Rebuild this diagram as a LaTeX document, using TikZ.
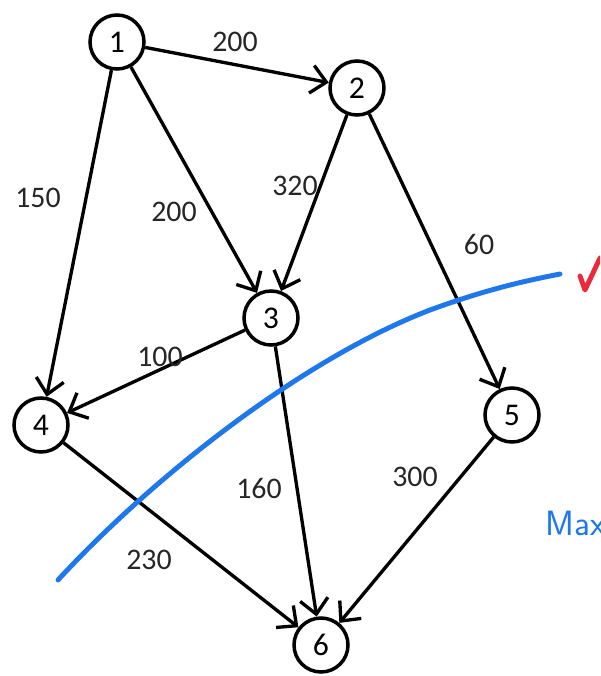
\documentclass[tikz,border=0pt]{standalone}
\usepackage{fontspec}
\setmainfont{Carlito}
\usetikzlibrary{arrows.meta}
\tikzset{
  vertex/.style={draw,circle,line width=2pt,minimum size=10.8mm,inner sep=0pt,font=\fontsize{18}{18}\selectfont},
  edge/.style={-{Straight Barb[length=3mm,width=5.6mm,line width=1.9pt]},line width=1.9pt},
  weight/.style={font=\fontsize{17}{17}\selectfont,text=black!85},
  cutline/.style={line width=2.8pt,color={rgb,255:red,30;green,120;blue,235},line cap=round},
  tickmark/.style={line width=2.8pt,color={rgb,255:red,235;green,40;blue,60},line cap=round,line join=round}
}

\begin{document}
\begin{tikzpicture}[x=0.02cm,y=-0.02cm]
\useasboundingbox (0,0) rectangle (600,676);
\clip (0,0) rectangle (600,676);

\node[vertex] (v1) at (117,42) {1};
\node[vertex] (v2) at (357,88) {2};
\node[vertex] (v3) at (271,318) {3};
\node[vertex] (v4) at (41,425) {4};
\node[vertex] (v5) at (512,415) {5};
\node[vertex] (v6) at (321,645) {6};

\draw[edge] (v1) -- (v2);
\draw[edge] (v1) -- (v3);
\draw[edge] (v1) -- (v4);
\draw[edge] (v2) -- (v3);
\draw[edge] (v2) -- (v5);
\draw[edge] (v3) -- (v4);
\draw[edge] (v3) -- (v6);
\draw[edge] (v4) -- (v6);
\draw[edge] (v5) -- (v6);

\node[weight] (w12) at (235,42) {200};
\node[weight] (w13) at (174,212) {200};
\node[weight] (w14) at (38,198) {150};
\node[weight] (w23) at (295,186) {320};
\node[weight] (w25) at (479,245) {60};
\node[weight] (w34) at (160,357) {100};
\node[weight] (w36) at (259,489) {160};
\node[weight] (w46) at (149,560) {230};
\node[weight] (w56) at (415,477) {300};

% the cut
\draw[cutline] (58,580) .. controls (150,480) and (300,360) .. (430,310)
  .. controls (490,288) and (530,280) .. (560,274);
\draw[tickmark] (580,276) -- (585,290) -- (600,258);
\node[anchor=west,inner sep=0pt,text={rgb,255:red,30;green,120;blue,235},font=\sffamily\fontsize{20}{20}\selectfont] (mx) at (545,523) {Max};
\end{tikzpicture}
\end{document}
